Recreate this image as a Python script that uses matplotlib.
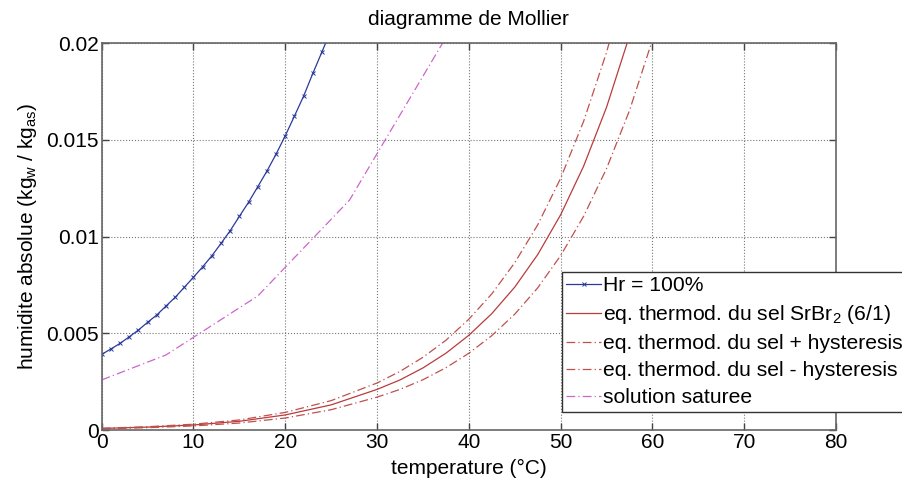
import matplotlib
matplotlib.use("Agg")
import matplotlib.pyplot as plt

plt.rcParams['font.family'] = ['Liberation Sans', 'DejaVu Sans']
plt.rcParams['mathtext.default'] = 'regular'

# ---- data ----
t_sat = list(range(0, 26))
x_sat = [0.00391, 0.00419, 0.00448, 0.00482, 0.00517, 0.00557, 0.00595, 0.00641,
         0.00686, 0.00738, 0.00790, 0.00844, 0.00901, 0.00965, 0.01031, 0.01105,
         0.01178, 0.01258, 0.01339, 0.01427, 0.01522, 0.01624, 0.01727, 0.01844,
         0.01956, 0.02070]

t_salt = [0, 5, 10, 15, 20, 25, 30, 32.5, 35, 37.5, 40, 42.5, 45, 47.5, 50,
          52.5, 55, 57.5, 60]
x_salt = [0.00008, 0.00015, 0.00026, 0.00045, 0.00078, 0.00130, 0.00210, 0.00259,
          0.00321, 0.00397, 0.00490, 0.00602, 0.00739, 0.00907, 0.01113, 0.01364,
          0.01669, 0.02039, 0.02490]
x_salt_plus = [0.00009, 0.00017, 0.00030, 0.00052, 0.00091, 0.00152, 0.00243, 0.00303,
               0.00376, 0.00464, 0.00573, 0.00704, 0.00865, 0.01061, 0.01302, 0.01596,
               0.01953, 0.02386, 0.02910]
x_salt_minus = [0.00006, 0.00012, 0.00021, 0.00036, 0.00062, 0.00105, 0.00170, 0.00210,
                0.00260, 0.00322, 0.00397, 0.00488, 0.00599, 0.00735, 0.00902, 0.01105,
                0.01352, 0.01652, 0.02017]

t_solution = [0, 7, 17, 27, 37, 40]
x_solution = [0.00259, 0.00388, 0.00693, 0.01189, 0.01990, 0.02230]

x_ticks = [0, 10, 20, 30, 40, 50, 60, 70, 80]
y_ticks = [0, 0.005, 0.01, 0.015, 0.02]
y_tick_labels = ['0', '0.005', '0.01', '0.015', '0.02']

labels = ['Hr = 100%',
          'eq. thermod. du sel SrBr$_2$ (6/1)',
          'eq. thermod. du sel + hysteresis',
          'eq. thermod. du sel - hysteresis',
          'solution saturee']

# ---- figure ----
fig = plt.figure(figsize=(9.02, 4.79), dpi=100)
ax = fig.add_axes([101.7 / 902, 1 - 430 / 479, (836 - 101.7) / 902, (430 - 43.3) / 479])

dashdot = (0, (7, 2.5, 1, 2.5))
ax.plot(t_sat, x_sat, color='#2a3a9c', lw=0.9, marker='x', ms=3.5, mew=0.7, label=labels[0])
ax.plot(t_salt, x_salt, color='#b83c3c', lw=0.9, ls='-', label=labels[1])
ax.plot(t_salt, x_salt_plus, color='#c0504d', lw=0.9, ls=dashdot, label=labels[2])
ax.plot(t_salt, x_salt_minus, color='#c0504d', lw=0.9, ls=dashdot, label=labels[3])
ax.plot(t_solution, x_solution, color='#cc66cc', lw=0.9, ls=dashdot, label=labels[4])

ax.set_xlim(0, 80)
ax.set_ylim(0, 0.02)
ax.set_xticks(x_ticks)
ax.set_xticklabels([str(v) for v in x_ticks])
ax.set_yticks(y_ticks)
ax.set_yticklabels(y_tick_labels)

ax.grid(True, ls=':', color='#777777', lw=0.8)
for s in ax.spines.values():
    s.set_color('#666666')
    s.set_linewidth(1.2)
ax.tick_params(direction='in', length=5, width=1, colors='#444444', labelcolor='black',
               labelsize=15, top=True, right=True, pad=2)

ax.set_title('diagramme de Mollier', fontsize=15, pad=13)
ax.set_xlabel('temperature (°C)', fontsize=15, labelpad=5)
ax.set_ylabel('humidite absolue (kg$_w$ / kg$_{as}$)', fontsize=15, labelpad=5)

leg = ax.legend(loc='upper left', bbox_to_anchor=(562 / 902, 1 - 272 / 479),
                bbox_transform=fig.transFigure, fontsize=15.2, frameon=True, fancybox=False,
                borderpad=0.2, borderaxespad=0, handlelength=1.65, handletextpad=0.1,
                labelspacing=0.38, framealpha=1)
leg.get_frame().set_edgecolor('#333333')
leg.get_frame().set_linewidth(1.0)

fig.savefig('out.png', dpi=100)
